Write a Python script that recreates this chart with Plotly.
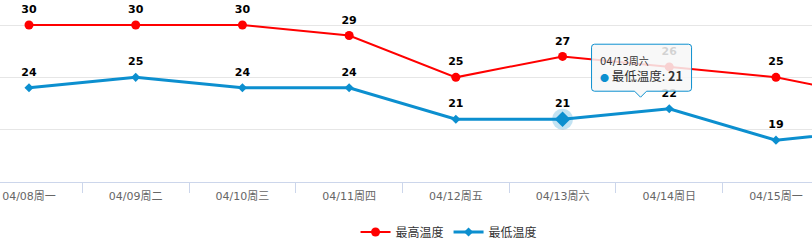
import plotly.graph_objects as go

categories = ["04/08周一", "04/09周二", "04/10周三", "04/11周四", "04/12周五",
              "04/13周六", "04/14周日", "04/15周一", "04/16周二"]
high_temp = [30, 30, 30, 29, 25, 27, 26, 25, 23]
low_temp = [24, 25, 24, 24, 21, 21, 22, 19, 20]
series_names = ["最高温度", "最低温度"]
hover_index = 5

RED = "#ff0000"
BLUE = "#0c8fcf"
FONT = "DejaVu Sans, Noto Sans CJK SC, sans-serif"
CJK = "Noto Sans CJK SC, DejaVu Sans, sans-serif"

fig = go.Figure()

fig.add_trace(go.Scatter(
    x=categories, y=high_temp, name=series_names[0],
    mode="lines+markers",
    line=dict(color=RED, width=2),
    marker=dict(symbol="circle", size=9, color=RED),
))
fig.add_trace(go.Scatter(
    x=categories, y=low_temp, name=series_names[1],
    mode="lines+markers",
    line=dict(color=BLUE, width=3),
    marker=dict(symbol="diamond", size=7, color=BLUE),
))
# data labels
for vals in (high_temp, low_temp):
    fig.add_trace(go.Scatter(
        x=categories, y=vals, mode="markers+text", showlegend=False, hoverinfo="skip",
        marker=dict(size=13, color="rgba(0,0,0,0)"),
        text=[str(v) for v in vals], textposition="top center",
        textfont=dict(family=FONT, size=11, color="#000000", weight="bold",
                      shadow="1px 1px 1px white"),
        cliponaxis=True,
    ))
# hovered point halo
fig.add_trace(go.Scatter(
    x=[categories[hover_index]], y=[low_temp[hover_index]],
    mode="markers", showlegend=False, hoverinfo="skip",
    marker=dict(symbol="circle", size=21, color="rgba(12,143,207,0.25)"),
))
fig.add_trace(go.Scatter(
    x=[categories[hover_index]], y=[low_temp[hover_index]],
    mode="markers", showlegend=False, hoverinfo="skip",
    marker=dict(symbol="diamond", size=12, color=BLUE),
))

# tooltip callout (pixel offsets relative to the hovered point)
r = 3
path = (f"M {29+r},75 L {129-r},75 Q 129,75 129,{75-r} L 129,{28+r} Q 129,28 {129-r},28 "
        f"L 84,28 L 78,22 L 72,28 L {29+r},28 Q 29,28 29,{28+r} L 29,{75-r} Q 29,75 {29+r},75 Z")
fig.add_shape(type="path", xref="x", yref="y", xsizemode="pixel", ysizemode="pixel",
              xanchor=categories[hover_index], yanchor=low_temp[hover_index],
              path=path, line=dict(color=BLUE, width=1),
              fillcolor="rgba(247,247,247,0.85)", layer="above")

fig.add_annotation(x=categories[hover_index], y=low_temp[hover_index], xref="x", yref="y",
                   xshift=35, yshift=58, xanchor="left", yanchor="middle", showarrow=False,
                   text=categories[hover_index], font=dict(family=FONT, size=10, color="#333333"))
fig.add_annotation(x=categories[hover_index], y=low_temp[hover_index], xref="x", yref="y",
                   xshift=35, yshift=44, xanchor="left", yanchor="middle", showarrow=False,
                   text=f'<span style="color:{BLUE};font-size:9px">●</span> {series_names[1]}: <b>{low_temp[hover_index]}</b>',
                   font=dict(family=CJK, size=12.5, color="#333333"))

fig.update_layout(
    width=812, height=242,
    margin=dict(l=0, r=0, t=0, b=60, autoexpand=False),
    plot_bgcolor="white", paper_bgcolor="white",
    showlegend=True,
    legend=dict(orientation="h", x=0.553, xanchor="center", y=-0.275, yanchor="middle",
                font=dict(family=CJK, size=12, color="#333333"), itemwidth=30),
    xaxis=dict(type="category", range=[-0.2718, 7.3376], tickson="boundaries",
               showgrid=False, showline=True, linecolor="#ccd6eb", linewidth=1,
               ticks="outside", ticklen=10, tickcolor="#ccd6eb",
               tickfont=dict(family=FONT, size=11, color="#666666"),
               ticklabelstandoff=4, zeroline=False, automargin=False),
    yaxis=dict(range=[15, 32.39], tickvals=[15, 20, 25, 30, 35], showticklabels=False,
               gridcolor="#e6e6e6", gridwidth=1, zeroline=False, showline=False,
               automargin=False),
    hovermode=False,
)

fig.write_html("out.html")
